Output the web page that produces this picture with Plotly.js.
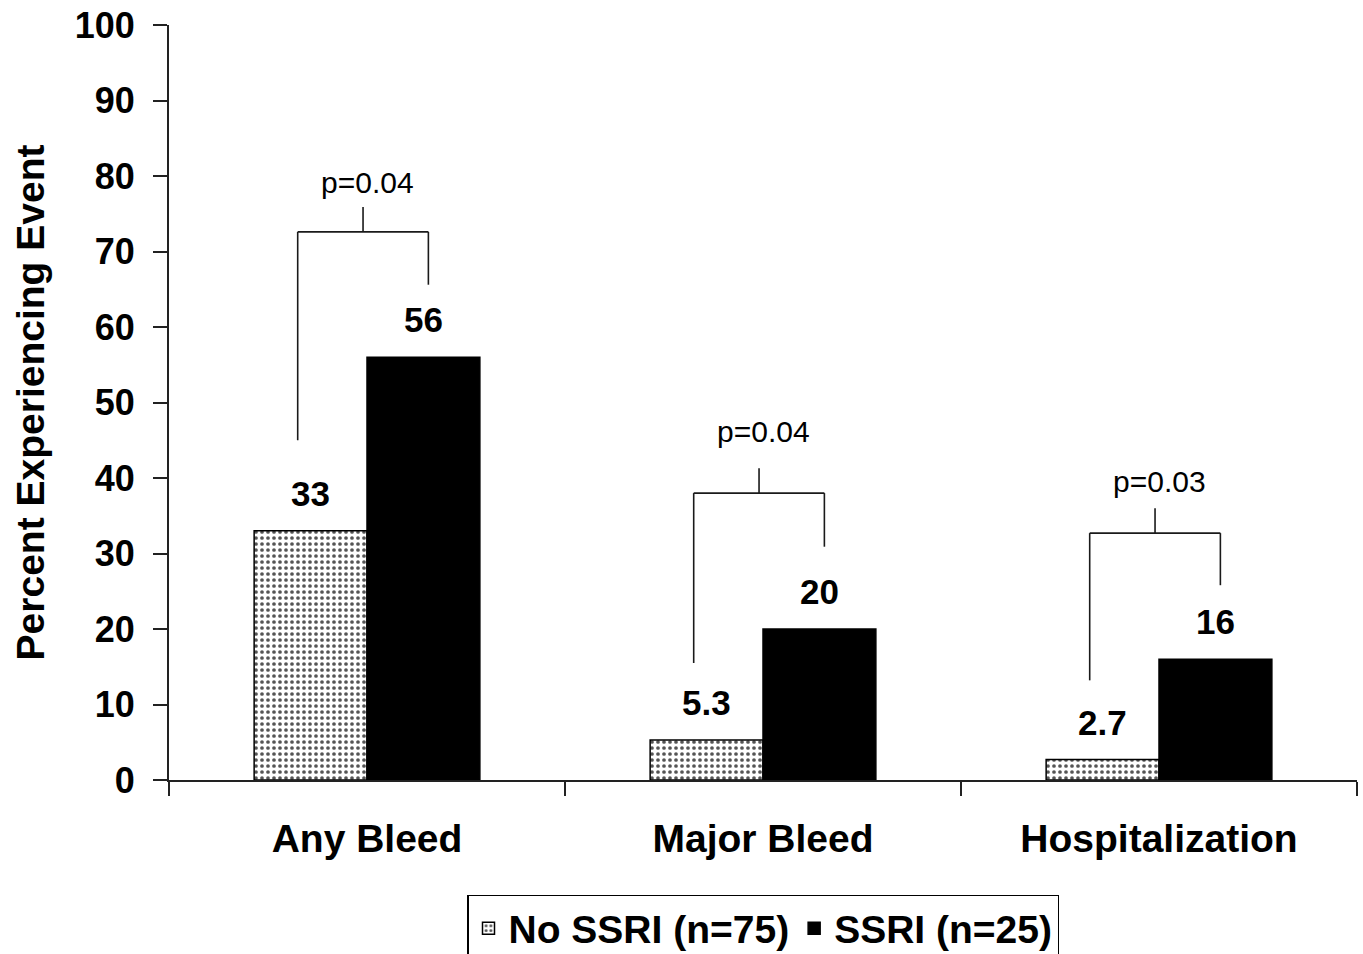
<!DOCTYPE html>
<html>
<head>
<meta charset="utf-8">
<script src="https://cdn.plot.ly/plotly-3.0.1.min.js"></script>
<style>
html,body{margin:0;padding:0;background:#fff;}
#chart{width:1363px;height:954px;}
</style>
</head>
<body>
<div id="chart"></div>
<script>
// ---- data ----
const categories = ['Any Bleed', 'Major Bleed', 'Hospitalization'];
const noSsriValues = [33, 5.3, 2.7];
const ssriValues = [56, 20, 16];
const noSsriLabels = ['33', '5.3', '2.7'];
const ssriLabels = ['56', '20', '16'];
const pValueLabels = ['p=0.04', 'p=0.04', 'p=0.03'];
const seriesNames = ['No SSRI (n=75)', 'SSRI (n=25)'];

// ---- annotation geometry (layout, in axis units) ----
const bracketLeftBottom = [45, 15.5, 13.2];
const bracketRightBottom = [65.6, 30.9, 25.8];
const bracketTop = [72.6, 38.0, 32.7];
const pLabelY = [79.2, 46.2, 39.5];

const FONT = 'Liberation Sans, Arial, Helvetica, sans-serif';

const traces = [
  {
    type: 'bar', name: seriesNames[0], x: categories, y: noSsriValues,
    marker: {
      color: '#ffffff',
      line: {color: '#000', width: 1.5},
      pattern: {shape: '.', size: 6, solidity: 0.3, fgcolor: '#555', bgcolor: '#fff'}
    },
    hoverinfo: 'skip'
  },
  {
    type: 'bar', name: seriesNames[1], x: categories, y: ssriValues,
    marker: {color: '#000', line: {color: '#000', width: 1.5}},
    hoverinfo: 'skip'
  }
];

const half = 0.1425;
const annotations = [];
const shapes = [];
const lineStyle = {color: '#1a1a1a', width: 1.6};

categories.forEach((c, i) => {
  annotations.push({
    x: i - half, y: noSsriValues[i], xref: 'x', yref: 'y', text: noSsriLabels[i],
    showarrow: false, yanchor: 'bottom', yshift: 16,
    font: {family: FONT, size: 35, color: '#000', weight: 'bold'}
  });
  annotations.push({
    x: i + half, y: ssriValues[i], xref: 'x', yref: 'y', text: ssriLabels[i],
    showarrow: false, yanchor: 'bottom', yshift: 16,
    font: {family: FONT, size: 35, color: '#000', weight: 'bold'}
  });
  // significance bracket
  const leftX = i - 0.175, rightX = i + 0.155, midX = i - 0.01;
  const top = bracketTop[i];
  shapes.push({type: 'line', xref: 'x', yref: 'y', x0: leftX, x1: leftX, y0: bracketLeftBottom[i], y1: top, line: lineStyle});
  shapes.push({type: 'line', xref: 'x', yref: 'y', x0: leftX, x1: rightX, y0: top, y1: top, line: lineStyle});
  shapes.push({type: 'line', xref: 'x', yref: 'y', x0: rightX, x1: rightX, y0: top, y1: bracketRightBottom[i], line: lineStyle});
  shapes.push({type: 'line', xref: 'x', yref: 'y', x0: midX, x1: midX, y0: top, y1: top + 3.3, line: lineStyle});
  annotations.push({
    x: i, y: pLabelY[i], xref: 'x', yref: 'y', text: pValueLabels[i],
    showarrow: false, yanchor: 'middle',
    font: {family: FONT, size: 30, color: '#000'}
  });
});

const layout = {
  width: 1363, height: 954,
  margin: {l: 169, r: 6, t: 25, b: 174},
  paper_bgcolor: '#fff', plot_bgcolor: '#fff',
  barmode: 'group', bargap: 0.43, bargroupgap: 0,
  font: {family: FONT, color: '#000'},
  showlegend: true,
  legend: {
    orientation: 'h', x: 0.5, xanchor: 'center',
    yref: 'container', y: 0.062, yanchor: 'top',
    bordercolor: '#000', borderwidth: 1.5, bgcolor: '#fff',
    font: {family: FONT, size: 39, color: '#000', weight: 'bold'},
    itemclick: false, itemdoubleclick: false
  },
  xaxis: {
    type: 'category',
    showline: true, linecolor: '#222', linewidth: 2,
    ticks: 'outside', tickson: 'boundaries', ticklen: 14, tickwidth: 2, tickcolor: '#222',
    showgrid: false, zeroline: false,
    tickfont: {family: FONT, size: 39, color: '#000', weight: 'bold'},
    ticklabelstandoff: 23
  },
  yaxis: {
    range: [0, 100], dtick: 10, tick0: 0,
    showline: true, linecolor: '#222', linewidth: 2,
    ticks: 'outside', ticklen: 14, tickwidth: 2, tickcolor: '#222',
    showgrid: false, zeroline: false,
    tickfont: {family: FONT, size: 36, color: '#000', weight: 'bold'},
    ticklabelstandoff: 11,
    title: {text: 'Percent Experiencing Event', standoff: 18,
            font: {family: FONT, size: 39, color: '#000', weight: 'bold'}}
  },
  shapes: shapes,
  annotations: annotations
};

Plotly.newPlot('chart', traces, layout, {displayModeBar: false, staticPlot: true});
</script>
</body>
</html>
